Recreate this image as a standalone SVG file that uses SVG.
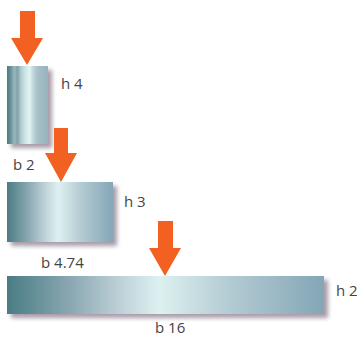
<svg xmlns="http://www.w3.org/2000/svg" width="359" height="338" viewBox="0 0 359 338">
<defs>
<linearGradient id="g1" x1="0" y1="0" x2="1" y2="0">
<stop offset="0" stop-color="#4b7b82"/>
<stop offset="0.1" stop-color="#6f959c"/>
<stop offset="0.18" stop-color="#9ab8bd"/>
<stop offset="0.25" stop-color="#7fa2a8"/>
<stop offset="0.35" stop-color="#b5cfd2"/>
<stop offset="0.45" stop-color="#cfe6e8"/>
<stop offset="0.55" stop-color="#e2f3f3"/>
<stop offset="0.65" stop-color="#bcd3d9"/>
<stop offset="0.75" stop-color="#a6c0c8"/>
<stop offset="1" stop-color="#98b2be"/>
</linearGradient>
<linearGradient id="g2" x1="0" y1="0" x2="1" y2="0">
<stop offset="0" stop-color="#4a7c84"/>
<stop offset="0.2" stop-color="#8aa8b2"/>
<stop offset="0.35" stop-color="#bccfd6"/>
<stop offset="0.48" stop-color="#ddf1f1"/>
<stop offset="0.7" stop-color="#b3cbd3"/>
<stop offset="1" stop-color="#84a6b6"/>
</linearGradient>
<filter id="sh" x="-20%" y="-30%" width="150%" height="170%">
<feGaussianBlur stdDeviation="2"/>
</filter>
</defs>
<style>
.lbl{font-family:"Open Sans","Liberation Sans",sans-serif;font-size:15px;fill:#444444}
.shadow{fill:#8c7c8c;opacity:0.75;filter:url(#sh)}
.arrow{fill:#f26122}
</style>
<g id="box1">
<rect class="shadow" x="11" y="70" width="41" height="78"/>
<rect x="7" y="66" width="41" height="78" fill="url(#g1)"/>
<text class="lbl" x="61" y="89">h 4</text>
<text class="lbl" x="13" y="170">b 2</text>
</g>
<g id="box2">
<rect class="shadow" x="11" y="186" width="106" height="60"/>
<rect x="7" y="182" width="106" height="60" fill="url(#g2)"/>
<text class="lbl" x="124" y="207">h 3</text>
<text class="lbl" x="41" y="268">b 4.74</text>
</g>
<g id="box3">
<rect class="shadow" x="11" y="280" width="317" height="38"/>
<rect x="7" y="276" width="317" height="38" fill="url(#g2)"/>
<text class="lbl" x="336" y="296">h 2</text>
<text class="lbl" x="155" y="333">b 16</text>
</g>
<g id="connectors">
<polygon class="arrow" points="20,11 35,11 35,38 43,38 27,65 11,38 20,38"/>
<polygon class="arrow" points="54,128 68,128 68,153 77,153 61,182 45,153 54,153"/>
<polygon class="arrow" points="158,221 173,221 173,248 181,248 165,276 149,248 158,248"/>
</g>
</svg>
